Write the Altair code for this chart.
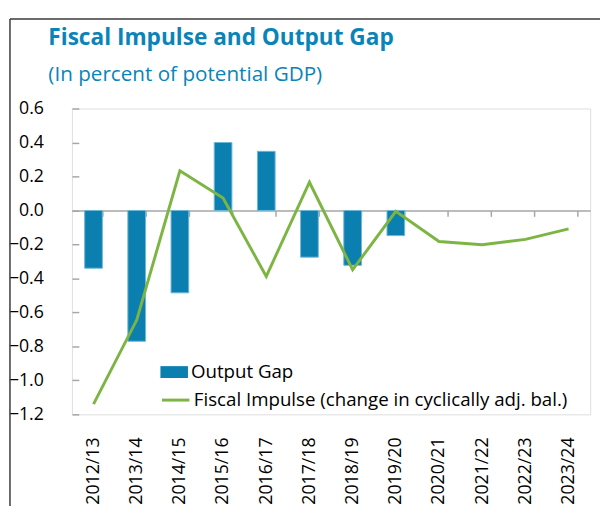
import altair as alt
import pandas as pd

# ---- data ----
years = ["2012/13", "2013/14", "2014/15", "2015/16", "2016/17", "2017/18",
         "2018/19", "2019/20", "2020/21", "2021/22", "2022/23", "2023/24"]
output_gap = [-0.34, -0.77, -0.485, 0.40, 0.348, -0.275, -0.323, -0.148,
              None, None, None, None]
fiscal_impulse = [-1.14, -0.645, 0.233, 0.073, -0.388, 0.166, -0.349, -0.005,
                  -0.183, -0.202, -0.17, -0.108]
y_ticks = [0.6, 0.4, 0.2, 0.0, -0.2, -0.4, -0.6, -0.8, -1.0, -1.2]
series_names = ["Output Gap", "Fiscal Impulse (change in cyclically adj. bal.)"]
title_text = "Fiscal Impulse and Output Gap"
subtitle_text = "(In percent of potential GDP)"

W, H = 527, 311
FONT = "Open Sans"
BLUE = "#0B7FAF"
GREEN = "#7DB543"
TITLE_BLUE = "#0A84B8"

df = pd.DataFrame({
    "year": years,
    "og": output_gap,
    "fi": fiscal_impulse,
    "s_og": series_names[0],
    "s_fi": series_names[1],
})

xscale = alt.Scale(domain=years, paddingInner=0.59, paddingOuter=0.295)
yscale = alt.Scale(domain=[-1.2, 0.6], nice=False, zero=False)

zero_off = H * 2 / 3
xaxis = alt.Axis(
    title=None, orient="bottom", offset=-zero_off,
    domainColor="#a6a6a6", domainWidth=1.5,
    tickColor="#a6a6a6", tickWidth=1.5, tickSize=6, tickBand="extent",
    labelAngle=-90, labelPadding=zero_off + 17,
    labelFontSize=18, labelFont=FONT, labelColor="#000000",
)

yaxis_left = alt.Axis(
    title=None, orient="left", values=y_ticks, format=".1f",
    domain=False, ticks=False, tickSize=0, grid=False,
    labelPadding=29, labelFontSize=18, labelFont=FONT, labelColor="#000000",
)
yaxis_ticks = alt.Axis(
    title=None, orient="right", offset=-W, values=y_ticks,
    domain=False, labels=False, grid=False,
    tickColor="#a6a6a6", tickWidth=1.5, tickSize=7,
)

bars = alt.Chart(df).transform_filter("isValid(datum.og)").mark_bar(
    stroke="#6fb8d8", strokeWidth=1
).encode(
    x=alt.X("year:N", scale=xscale, axis=xaxis, sort=years),
    y=alt.Y("og:Q", scale=yscale, axis=yaxis_left),
    color=alt.Color(
        "s_og:N",
        scale=alt.Scale(domain=[series_names[0]], range=[BLUE]),
        legend=alt.Legend(
            title=None, orient="none", legendX=90, legendY=254,
            symbolType="M-1,-0.43H1V0.43H-1Z", symbolSize=784,
            symbolStrokeWidth=0, symbolOpacity=1,
            labelFontSize=19, labelFont=FONT, labelColor="#000000",
            labelOffset=3, labelLimit=600,
        ),
    ),
)

line = alt.Chart(df).mark_line(strokeWidth=3).encode(
    x=alt.X("year:N", scale=xscale, axis=xaxis, sort=years),
    y=alt.Y("fi:Q", scale=yscale, axis=yaxis_ticks),
    color=alt.Color(
        "s_fi:N",
        scale=alt.Scale(domain=[series_names[1]], range=[GREEN]),
        legend=alt.Legend(
            title=None, orient="none", legendX=90, legendY=281,
            symbolType="stroke", symbolSize=784, symbolStrokeWidth=3,
            labelFontSize=19, labelFont=FONT, labelColor="#000000",
            labelOffset=3, labelLimit=600,
        ),
    ),
)

frame_data = alt.Data(values=[{"k": 1}])
frame_top = alt.Chart(frame_data).mark_rule(color="#3a3a3a", strokeWidth=1.5).encode(
    x=alt.value(-63), x2=alt.value(W + 40), y=alt.value(-91)
)
frame_left = alt.Chart(frame_data).mark_rule(color="#3a3a3a", strokeWidth=1.5).encode(
    x=alt.value(-63), y=alt.value(-91), y2=alt.value(H + 120)
)

chart = alt.layer(bars, line, frame_top, frame_left).resolve_scale(
    color="independent"
).resolve_axis(
    y="independent"
).properties(
    width=W, height=H,
    title=alt.TitleParams(
        text=title_text, subtitle=subtitle_text, anchor="start", frame="group",
        dx=-24, offset=-68, font=FONT, fontSize=23, fontWeight="bold",
        color=TITLE_BLUE, subtitleFont=FONT, subtitleFontSize=21,
        subtitleColor=TITLE_BLUE, subtitlePadding=15,
    ),
    autosize=alt.AutoSizeParams(type="none"),
    padding={"left": 65, "top": 98, "right": 10, "bottom": 90},
).configure_view(
    stroke="#c8c8c8", strokeWidth=1.5
).configure(background="white")

chart.save("out.html", embed_options={"renderer": "svg", "actions": False})
